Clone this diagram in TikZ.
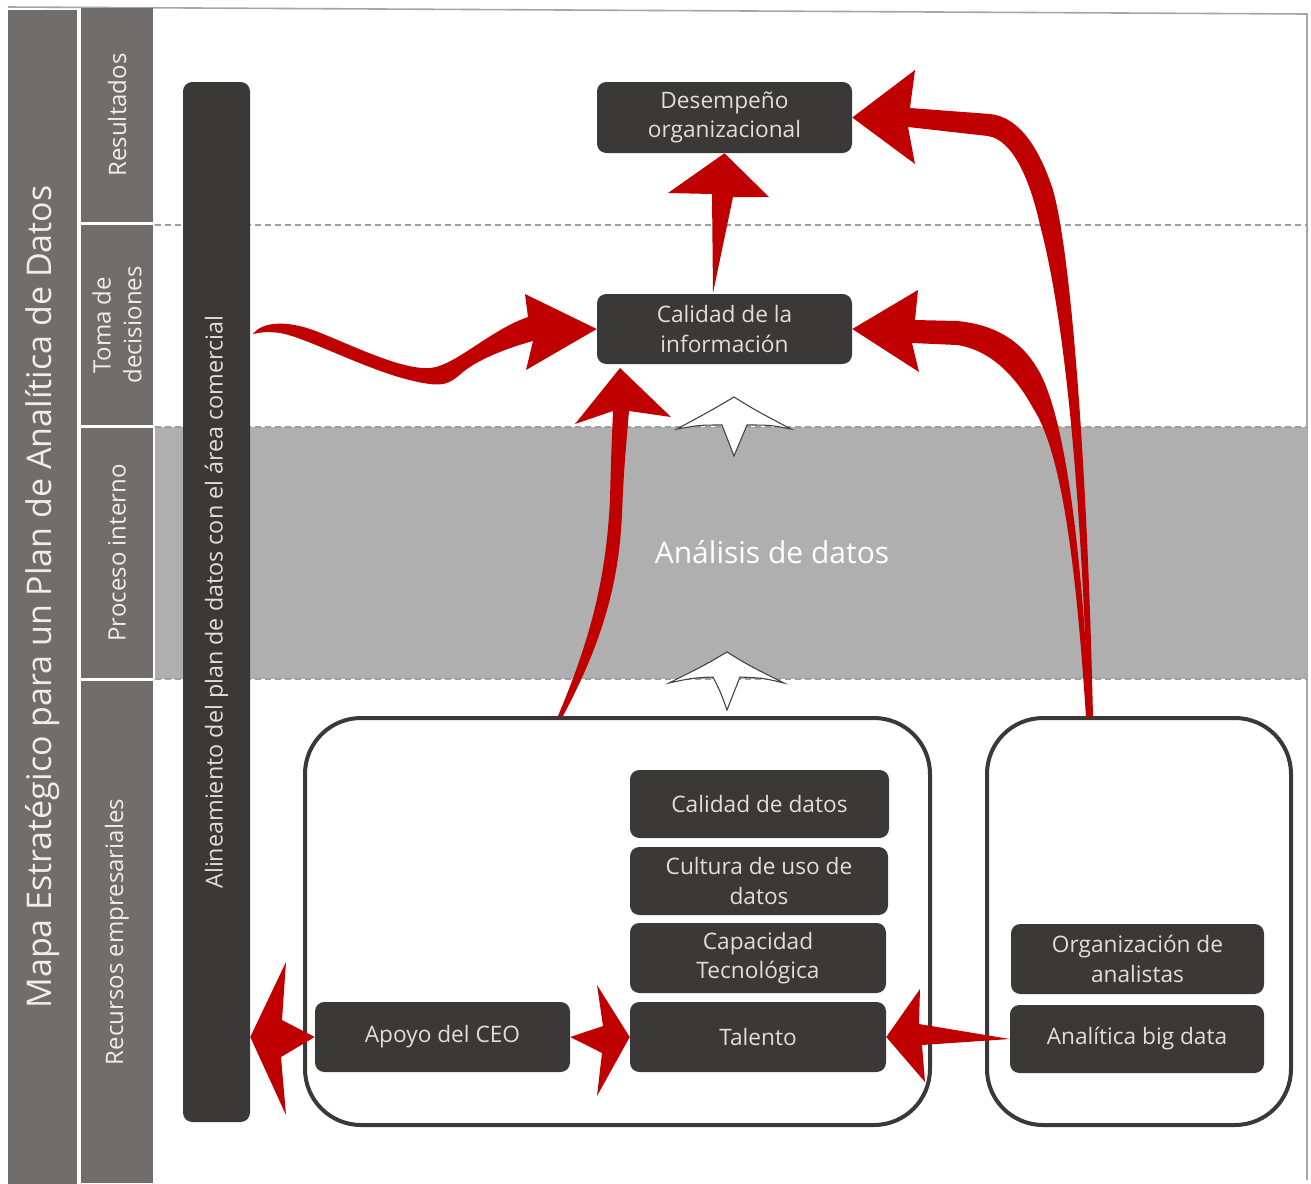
\documentclass[tikz,border=0pt]{standalone}
\usepackage{fontspec}
\setmainfont{Open Sans}
\definecolor{boxdark}{HTML}{3B3938}
\definecolor{colgray}{HTML}{716D6C}
\definecolor{bandgray}{HTML}{AFAFAF}
\definecolor{arrowred}{HTML}{C00000}
\definecolor{boxtext}{HTML}{DEDEDE}
\definecolor{lanetext}{HTML}{EDEDED}
\def\pxu{0.75pt}
\begin{document}
\begin{tikzpicture}[x=0.75pt,y=-0.75pt,
  box/.style={fill=boxdark, rounded corners=7pt, text=boxtext, align=center,
    font=\fontsize{17}{22}\selectfont, inner sep=0pt},
  group/.style={draw=boxdark, line width=3pt, rounded corners=42pt, inner sep=0pt},
  lane/.style={fill=colgray, rotate=90, inner sep=0pt, align=center, text=lanetext,
    font=\fontsize{18}{23}\selectfont},
  divider/.style={draw=black!38, line width=0.9pt, dash pattern=on 4.5pt off 3pt},
  redarrow/.style={fill=arrowred},
  hollowarrow/.style={fill=white, draw=black!75, line width=0.8pt, line join=miter}]

\useasboundingbox (0,0) rectangle (1311,1183);
\fill[white] (0,0) rectangle (1311,1183);

% outer frame
\draw[black!35, line width=1.2pt] (8,7) -- (1307,14) -- (1307,1180);

% internal-process band and level dividers
\fill[bandgray] (155,427) rectangle (1307,679);
\draw[divider] (155,225) -- (1307,225);
\draw[divider] (155,427) -- (1307,427);
\draw[divider] (155,679) -- (1307,679);

% title column and level lanes
\node[lane, minimum width=1175*\pxu, minimum height=69*\pxu,
  font=\fontsize{25.5}{30}\selectfont] (title) at (42.5,597)
  {Mapa Estratégico para un Plan de Analítica de Datos};
\node[lane, minimum width=214*\pxu, minimum height=72*\pxu] (resultados) at (117,115) {Resultados};
\node[lane, minimum width=200*\pxu, minimum height=72*\pxu] (toma) at (117,325) {Toma de\\decisiones};
\node[lane, minimum width=250*\pxu, minimum height=72*\pxu] (proceso) at (117,553) {Proceso interno};
\node[lane, minimum width=502*\pxu, minimum height=72*\pxu] (recursos) at (117,932) {Recursos empresariales};

% alignment bar
\node[box, rotate=90, minimum width=1040*\pxu, minimum height=67*\pxu,
  font=\fontsize{17.5}{22}\selectfont] (bar) at (216.5,602)
  {Alineamiento del plan de datos con el área comercial};

% resource groups
\node[group, minimum width=625*\pxu, minimum height=407*\pxu] (grpA) at (617.5,921.5) {};
\node[group, minimum width=304*\pxu, minimum height=407*\pxu] (grpB) at (1139,921.5) {};

% boxes
\node[box, minimum width=255*\pxu, minimum height=71*\pxu] (desemp) at (724.5,117.5) {Desempeño\\organizacional};
\node[box, minimum width=255*\pxu, minimum height=70*\pxu] (info) at (724.5,329) {Calidad de la\\información};
\node[text=white, font=\fontsize{22.5}{27}\selectfont] (analisis) at (772,552) {Análisis de datos};
\node[box, minimum width=259*\pxu, minimum height=68*\pxu] (caldatos) at (759.5,804) {Calidad de datos};
\node[box, minimum width=258*\pxu, minimum height=68*\pxu] (cultura) at (759,881) {Cultura de uso de\\datos};
\node[box, minimum width=256*\pxu, minimum height=70*\pxu] (capacidad) at (758,958) {Capacidad\\Tecnológica};
\node[box, minimum width=256*\pxu, minimum height=70*\pxu] (talento) at (758,1037) {Talento};
\node[box, minimum width=255*\pxu, minimum height=70*\pxu] (apoyo) at (442.5,1037) {Apoyo del CEO};
\node[box, minimum width=253*\pxu, minimum height=70*\pxu] (organiza) at (1137.5,959) {Organización de\\analistas};
\node[box, minimum width=254*\pxu, minimum height=68*\pxu] (bigdata) at (1137,1039) {Analítica big data};

% hollow arrows through the analysis band
\draw[hollowarrow] (734,397) .. controls (755,410) .. (791,429)
  .. controls (770,425) .. (747,425) .. controls (740,440) .. (734,456)
  .. controls (728,440) .. (722,425) .. controls (700,425) .. (677,429)
  .. controls (712,410) .. cycle;
\draw[hollowarrow] (727,652) .. controls (748,665) .. (784,683)
  .. controls (763,678) .. (740,677) .. controls (733,693) .. (727,710)
  .. controls (721,693) .. (713,677) .. controls (692,678) .. (669,683)
  .. controls (705,665) .. cycle;

% information quality -> organisational performance
\fill[redarrow] (713,293) -- (712,194) -- (668,193) -- (desemp.south)
  -- (769,197) -- (733,197) -- cycle;

% commercial alignment -> information quality
\fill[redarrow] (253,334) .. controls (262,322) and (285,320) .. (313,330)
  .. controls (350,344) and (400,370) .. (430,368)
  .. controls (455,366) and (490,330) .. (528,317)
  -- (525,294) -- (info.west) -- (526,370) -- (533,341)
  .. controls (500,350) and (475,362) .. (463,372)
  .. controls (452,382) and (445,386) .. (430,384)
  .. controls (380,378) and (310,338) .. (280,333)
  .. controls (265,331) and (258,333) .. cycle;

% resources -> information quality
\fill[redarrow] (558,716) .. controls (590,640) and (606,580) .. (610,500)
  .. controls (611,460) .. (613,411) -- (575,424) -- (620,368) -- (671,417)
  -- (629,411) .. controls (624,470) .. (622,513)
  .. controls (619,590) and (598,650) .. (563,716) -- cycle;

% analytics group -> organisational performance
\fill[redarrow] (1093,717) .. controls (1087,450) and (1070,250) .. (1053,190)
  .. controls (1040,150) and (1020,117) .. (990,114) -- (910,108) -- (915,70)
  -- (desemp.east) -- (915,164) -- (908,127) -- (988,136)
  .. controls (1013,140) and (1030,180) .. (1040,225)
  .. controls (1060,300) and (1080,450) .. (1088,717) -- cycle;

% analytics group -> information quality
\fill[redarrow] (1090,717) .. controls (1080,520) and (1062,415) .. (1040,373)
  .. controls (1025,345) and (1000,325) .. (957,321) -- (915,320) -- (918,290)
  -- (info.east) -- (919,372) -- (912,343) -- (957,345)
  .. controls (990,350) and (1015,375) .. (1033,408)
  .. controls (1060,450) and (1075,550) .. (1086,717) -- cycle;

% CEO support -> alignment bar
\fill[redarrow] (bar.south |- apoyo.west) -- (286,962) -- (282,1020) -- (apoyo.west)
  -- (281,1057) -- (286,1115) -- cycle;

% CEO support -> talent
\fill[redarrow] (apoyo.east) -- (603,1026) -- (597,985) -- (talento.west)
  -- (597,1096) -- (602,1053) -- cycle;

% big data analytics -> talent
\fill[redarrow] (talento.east) -- (920,989) -- (919,1024) -- (bigdata.west)
  -- (922,1045) -- (925,1082) -- cycle;

\end{tikzpicture}
\end{document}
